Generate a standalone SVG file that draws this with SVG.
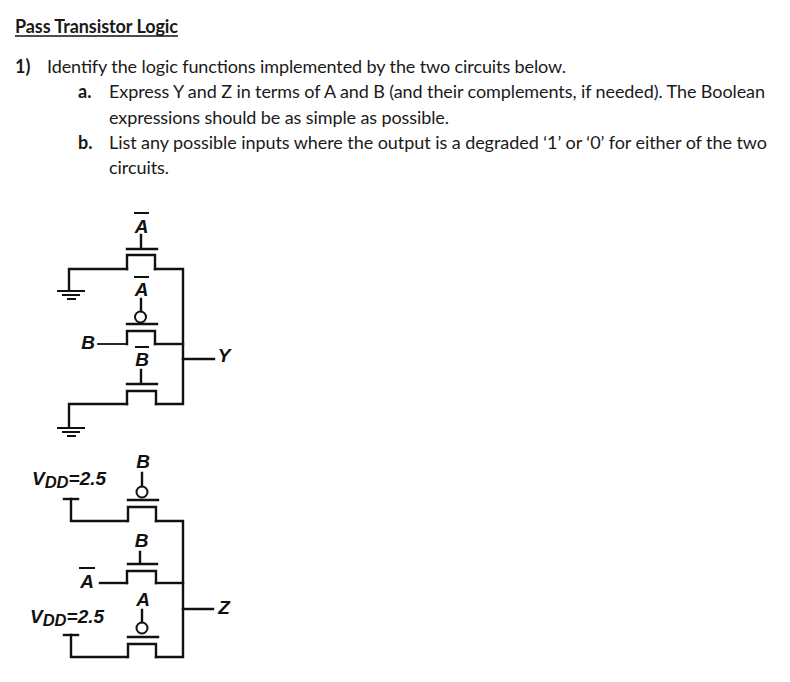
<svg xmlns="http://www.w3.org/2000/svg" width="790" height="682" viewBox="0 0 790 682">
<style>
.t{font-family:"Lato","Open Sans","Liberation Sans",sans-serif;font-size:18px;fill:#1a1a1a}
.b{font-weight:700}
.l{font-family:"Liberation Sans",Arial,sans-serif;font-size:19px;font-style:italic;font-weight:700;fill:#111}
.m{text-anchor:middle}
.s{font-size:16.500px}
.w{fill:none;stroke:#111;stroke-width:2.400;stroke-linecap:square}
.g{fill:none;stroke:#111;stroke-width:2}
</style>
<rect width="790" height="682" fill="#fff"/>
<g id="heading">
<text class="t b" x="15" y="33" textLength="163">Pass Transistor Logic</text>
<line x1="15" y1="36" x2="178" y2="36" stroke="#111" stroke-width="1.300"/>
<text class="t b" x="15" y="73">1)</text>
<text class="t" x="47" y="73" textLength="519">Identify the logic functions implemented by the two circuits below.</text>
<text class="t b" x="78" y="98">a.</text>
<text class="t" x="109" y="98" textLength="656">Express Y and Z in terms of A and B (and their complements, if needed). The Boolean</text>
<text class="t" x="109" y="124" textLength="340">expressions should be as simple as possible.</text>
<text class="t b" x="78" y="149">b.</text>
<text class="t" x="109" y="149" textLength="658">List any possible inputs where the output is a degraded ‘1’ or ‘0’ for either of the two</text>
<text class="t" x="109" y="174" textLength="60">circuits.</text>
</g>
<g id="connectors" class="w">
<path d="M127 269H69V290"/>
<path d="M155 269H183V404H156"/>
<path d="M98 344H127" stroke-width="1.800"/>
<path d="M155 344H183"/>
<path d="M127 404H69V427"/>
<path d="M183 359H214"/>
<path d="M127 521H71V499"/>
<path d="M156 521H183V657H156"/>
<path d="M100 583H127"/>
<path d="M156 583H183"/>
<path d="M127 657H71V635"/>
<path d="M183 609H213"/>
</g>
<g id="t1"><path class="w" d="M127 269V255H155V269M127 249H157M141 235V249"/><text class="l m" x="141.500" y="233">A</text><line class="g" x1="134" y1="213" x2="149" y2="213"/></g>
<g id="t2"><path class="w" d="M127 344V331H155V344M127 324H157M141 299V311"/><circle class="g" cx="140.500" cy="317" r="5.500"/><text class="l m" x="141.500" y="296">A</text><line class="g" x1="134" y1="277" x2="149" y2="277"/></g>
<g id="t3"><path class="w" d="M127 404V391H156V404M127 384H157M141 370V384"/><text class="l m" x="142" y="366">B</text><line class="g" x1="135" y1="347" x2="149" y2="347"/></g>
<g id="t4"><path class="w" d="M128 521V507H156V521M128 500H158M142 473V486"/><circle class="g" cx="142" cy="492" r="5.500"/><text class="l m" x="143" y="468">B</text></g>
<g id="t5"><path class="w" d="M127 583V571H156V583M128 564H157M140 552V564"/><text class="l m" x="141.500" y="547">B</text></g>
<g id="t6"><path class="w" d="M128 657V644H156V657M128 637H158M142 610V622"/><circle class="g" cx="142" cy="628" r="5.500"/><text class="l m" x="143" y="606">A</text></g>
<g id="gnd1"><path class="g" d="M57 291H85M62 295H80M67 299H76"/></g>
<g id="gnd2"><path class="g" d="M57 428H85M62 432H80M67 436H76"/></g>
<g id="vdd1"><path class="w" d="M64 499H78"/><text class="l" x="32" y="485">V<tspan class="s" dy="3">DD</tspan><tspan dy="-3">=2.5</tspan></text></g>
<g id="vdd2"><path class="w" d="M64 635H78"/><text class="l" x="30" y="623">V<tspan class="s" dy="3">DD</tspan><tspan dy="-3">=2.5</tspan></text></g>
<g id="in-b"><text class="l m" x="88" y="349">B</text></g>
<g id="in-a"><text class="l m" x="87" y="588">A</text><line class="g" x1="79" y1="568" x2="95" y2="568"/></g>
<g id="out-y"><text class="l m" x="224" y="362">Y</text></g>
<g id="out-z"><text class="l m" x="224" y="614">Z</text></g>
</svg>
